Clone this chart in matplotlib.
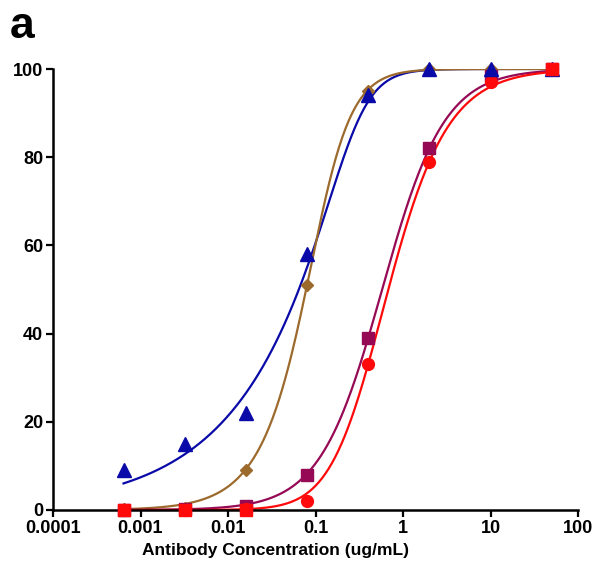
import numpy as np
import matplotlib
matplotlib.use("Agg")
import matplotlib.pyplot as plt
from matplotlib.ticker import FixedLocator, NullLocator

plt.rcParams['font.family'] = ['Liberation Sans', 'DejaVu Sans']

# concentrations (ug/mL), 5-fold dilutions
conc = [0.00064, 0.0032, 0.016, 0.08, 0.4, 2, 10, 50]

# measured values (%)
blue_tri = [9, 15, 22, 58, 94, 100, 100, 100]
brown_dia = [0.2, 0.5, 9, 51, 95, 100, 100, 100]
purple_sq = [0, 0.2, 1, 8, 39, 82, 98.5, 100]
red_circ = [0, 0, 0.2, 2, 33, 79, 97, 100]
red_sq_conc = [0.00064, 0.0032, 0.016, 50]
red_sq = [0, 0, 0, 100]

# fitted curve parameters: (EC50-like c, hill h, asymmetry s)
fit_blue = (0.287, 2.3, 0.2)
fit_brown = (0.1152, 2.0, 0.6)
fit_purple = (0.577, 1.22, 1.0)
fit_red = (0.346, 1.12, 1.8)

c_blue = '#0a0aa8'
c_brown = '#9c6a2c'
c_purple = '#960a55'
c_red = '#ff0a0a'

x_ticks = [0.0001, 0.001, 0.01, 0.1, 1, 10, 100]
x_ticklabels = ['0.0001', '0.001', '0.01', '0.1', '1', '10', '100']
y_ticks = [0, 20, 40, 60, 80, 100]


def pl5(x, c, h, s):
    return 100.0 / (1.0 + (c / x) ** h) ** s


fig = plt.figure(figsize=(5.96, 5.73), dpi=100)
ax = fig.add_axes([53 / 596, 63 / 573, 525 / 596, 441 / 573])
ax.set_xscale('log')
ax.set_xlim(0.0001, 100)
ax.set_ylim(0, 100)

xs = np.logspace(np.log10(conc[0]), np.log10(conc[-1]), 400)
for fit, col in [(fit_blue, c_blue), (fit_brown, c_brown),
                 (fit_purple, c_purple), (fit_red, c_red)]:
    ax.plot(xs, pl5(xs, *fit), color=col, lw=1.6, zorder=2)

ax.plot(conc, brown_dia, 'D', color=c_brown, ms=6.5, zorder=3, clip_on=False)
ax.plot(conc, purple_sq, 's', color=c_purple, ms=8.5, zorder=3, clip_on=False)
ax.plot(conc, red_circ, 'o', color=c_red, ms=8.5, zorder=4, clip_on=False)
ax.plot(conc, blue_tri, '^', color=c_blue, ms=9.5, zorder=4, clip_on=False)
ax.plot(red_sq_conc, red_sq, 's', color=c_red, ms=9, zorder=5, clip_on=False)

for sp in ['top', 'right']:
    ax.spines[sp].set_visible(False)
for sp in ['left', 'bottom']:
    ax.spines[sp].set_linewidth(1.8)
    ax.spines[sp].set_zorder(2.5)

ax.xaxis.set_major_locator(FixedLocator(x_ticks))
ax.xaxis.set_minor_locator(NullLocator())
ax.set_xticklabels(x_ticklabels)
ax.set_yticks(y_ticks)
ax.tick_params(axis='both', direction='out', length=5, width=1.6,
               labelsize=13, pad=2)
for lab in ax.get_xticklabels() + ax.get_yticklabels():
    lab.set_fontweight('bold')

fig.text(276 / 596, 1 - 550 / 573, 'Antibody Concentration (ug/mL)',
         fontsize=12.5, fontweight='bold', ha='center', va='center')

fig.text(10 / 596, 1 - 38 / 573, 'a', fontsize=32, fontweight='bold',
         ha='left', va='baseline')

fig.savefig('out.png', dpi=100)
